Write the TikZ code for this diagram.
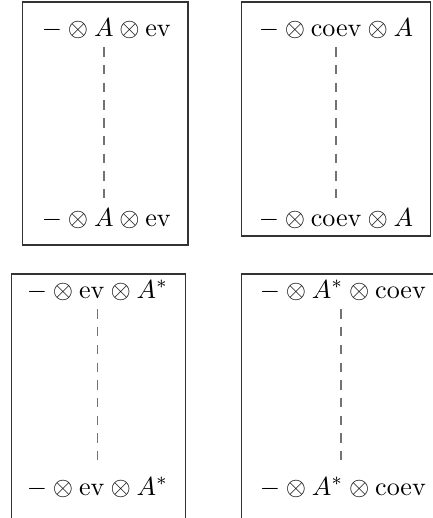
\documentclass[tikz,border=0pt]{standalone}
\usepackage{amssymb}
\usepackage{amsmath}
\usetikzlibrary{positioning}

\begin{document}
\begin{tikzpicture}[
  x=0.384pt, y=-0.384pt,
  word/.style={anchor=base},
  strand/.style={draw=black!55, line width=0.5pt, dash pattern=on 3.6pt off 3.2pt},
  panel/.style={draw=black!80, line width=0.55pt}
]
\useasboundingbox (0,0) rectangle (433,518);
\clip (0,0) rectangle (433,518);

% ---------- panels ----------
\draw[panel] (22.5,1.8) rectangle (188,245);
\draw[panel] (241.7,1.8) rectangle (430.7,236);
\draw[panel] (11.7,274) rectangle (185.7,540);
\draw[panel] (241.3,274) rectangle (460,540);

% ---------- labels ----------
\node[word] (evA)    at (106.5,36)  {$-\otimes A\otimes\mathrm{ev}$};
\node[word] (evA')   at (106.5,226) {$-\otimes A\otimes\mathrm{ev}$};
\node[word] (coevA)  at (336,36)    {$-\otimes\mathrm{coev}\otimes A$};
\node[word] (coevA') at (336,226)   {$-\otimes\mathrm{coev}\otimes A$};
\node[word] (evD)    at (97.5,298)  {$-\otimes\mathrm{ev}\otimes A^*$};
\node[word] (evD')   at (97.5,495)  {$-\otimes\mathrm{ev}\otimes A^*$};
\node[word] (coevD)  at (343,298)   {$-\otimes A^*\otimes\mathrm{coev}$};
\node[word] (coevD') at (343,495)   {$-\otimes A^*\otimes\mathrm{coev}$};

% ---------- strands ----------
\draw[strand] ([xshift=-1pt]evA.south) -- ([xshift=-1pt]evA'.north);
\draw[strand] (coevA.south) -- (coevA'.north);
\draw[strand] (evD.south) -- (evD'.north);
\draw[strand] ([xshift=-0.8pt]coevD.south) -- ([xshift=-0.8pt]coevD'.north);
\end{tikzpicture}
\end{document}
